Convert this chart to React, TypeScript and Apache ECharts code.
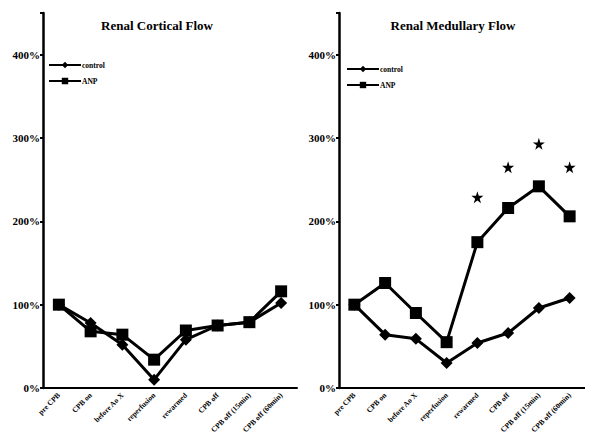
import React, { useEffect, useRef } from "react";
import * as echarts from "echarts";

const categories = [
  "pre CPB",
  "CPB on",
  "before Ao X",
  "reperfusion",
  "rewarmed",
  "CPB off",
  "CPB off (15min)",
  "CPB off (60min)",
];
const yTicks = [0, 100, 200, 300, 400];

const corticalControl = [100, 78, 52, 10, 58, 75, 79, 102];
const corticalANP = [100, 68, 64, 34, 69, 75, 79, 116];
const medullaryControl = [100, 64, 59, 30, 54, 66, 96, 108];
const medullaryANP = [100, 126, 90, 55, 175, 216, 242, 206];
const starIndices = [4, 5, 6, 7];
const starValues = [229, 265, 293, 265];

const titles = ["Renal Cortical Flow", "Renal Medullary Flow"];

const STAR =
  "path://M50,0 L61,35 L98,35 L68,57 L79,91 L50,70 L21,91 L32,57 L2,35 L39,35 Z";

const FONT = "Liberation Serif";

export default function App() {
  const ref = useRef<HTMLDivElement>(null);
  useEffect(() => {
    if (!ref.current) return;
    const chart = echarts.init(ref.current, null, { renderer: "svg" });
    const xAxis = (gridIndex: number) => ({
      type: "category",
      gridIndex,
      data: categories,
      boundaryGap: true,
      axisLine: { lineStyle: { color: "#000", width: 2 } },
      axisTick: { length: 3, lineStyle: { color: "#000", width: 2 } },
      axisLabel: {
        rotate: 45,
        fontSize: 7.5,
        fontWeight: "bold",
        fontFamily: FONT,
        color: "#000",
        margin: 6,
        interval: 0,
      },
    });
    const yAxis = (gridIndex: number) => ({
      type: "value",
      gridIndex,
      min: 0,
      max: 450,
      interval: 100,
      splitLine: { show: false },
      axisLine: { show: true, lineStyle: { color: "#000", width: 2.5 } },
      axisTick: { show: true, length: 3, lineStyle: { color: "#000", width: 2 } },
      axisLabel: {
        fontSize: 11,
        fontWeight: "bold",
        fontFamily: FONT,
        color: "#000",
        margin: 3,
        formatter: (v: number) => (yTicks.includes(v) ? v + "%" : ""),
      },
    });
    const line = (
      name: string,
      idx: number,
      data: number[],
      symbol: string,
      size: number
    ) => ({
      type: "line",
      name,
      xAxisIndex: idx,
      yAxisIndex: idx,
      data,
      symbol,
      symbolSize: size,
      lineStyle: { color: "#000", width: 3 },
      itemStyle: { color: "#000" },
    });
    const legend = (left: number, top: number) => ({
      left,
      top,
      orient: "vertical",
      itemWidth: 32,
      itemHeight: 8,
      itemGap: 8,
      data: ["control", "ANP"],
      textStyle: {
        fontSize: 7.5,
        fontWeight: "bold",
        fontFamily: FONT,
        color: "#000",
        padding: [0, 0, 0, -4],
      },
    });
    const titleStyle = { fontSize: 13, fontWeight: "bold", fontFamily: FONT, color: "#000" };
    chart.setOption({
      animation: false,
      backgroundColor: "#fff",
      title: [
        { text: titles[0], left: 144, top: 6, textAlign: "center", textStyle: titleStyle },
        { text: titles[1], left: 440, top: 6, textAlign: "center", textStyle: titleStyle },
      ],
      legend: [legend(35, 48), legend(333, 52)],
      grid: [
        { left: 35, width: 254, top: 5, bottom: 52 },
        { left: 331, width: 254, top: 5, bottom: 52 },
      ],
      xAxis: [xAxis(0), xAxis(1)],
      yAxis: [yAxis(0), yAxis(1)],
      series: [
        line("control", 0, corticalControl, "diamond", 12),
        line("ANP", 0, corticalANP, "rect", 12),
        line("control", 1, medullaryControl, "diamond", 12),
        line("ANP", 1, medullaryANP, "rect", 12),
        {
          type: "scatter",
          name: "significance",
          xAxisIndex: 1,
          yAxisIndex: 1,
          symbol: STAR,
          symbolSize: 12,
          itemStyle: { color: "#000", opacity: 1 },
          data: starIndices.map((i, k) => [i, starValues[k]]),
        },
      ],
    });
    return () => chart.dispose();
  }, []);
  return <div ref={ref} style={{ width: 577, height: 432 }} />;
}
